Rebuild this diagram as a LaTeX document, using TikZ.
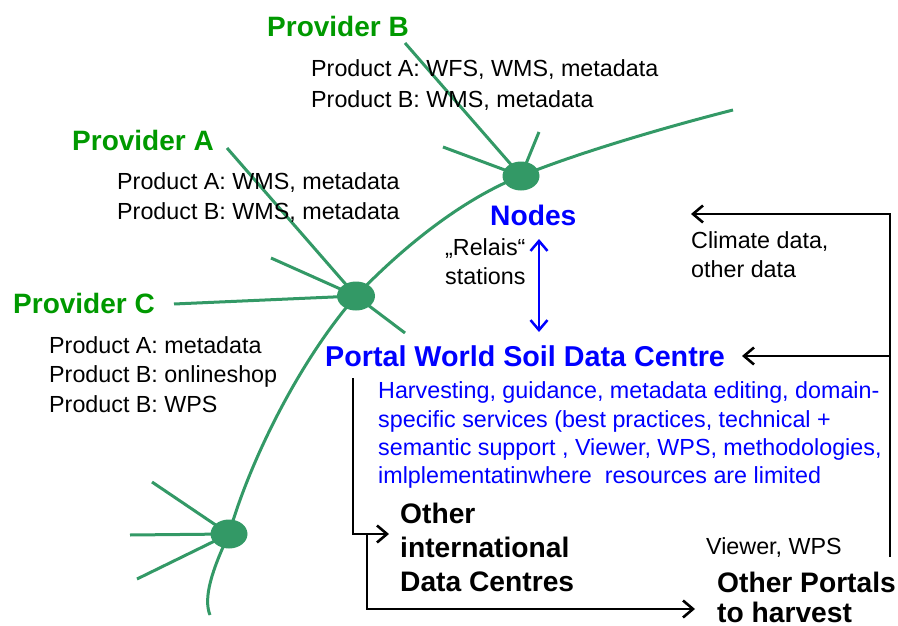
\documentclass[tikz,border=0pt]{standalone}
\usepackage{fontspec}
\setmainfont{Liberation Sans}
\usetikzlibrary{arrows.meta,shapes.geometric}
\definecolor{lgreen}{RGB}{51,153,102}
\definecolor{tgreen}{RGB}{0,153,0}
\definecolor{tblue}{RGB}{0,0,255}
\tikzset{
  txt/.style={anchor=base west, inner sep=0pt, font=\fontsize{23.3}{28}\selectfont},
  hd/.style={anchor=base west, inner sep=0pt, font=\bfseries\fontsize{28.2}{34}\selectfont},
  branch/.style={draw=lgreen, line width=3pt},
  hub/.style={ellipse, fill=lgreen, inner sep=0pt, minimum width=37pt, minimum height=29pt},
  conn/.style={draw=black, line width=2.6pt, line join=miter, -{Straight Barb[length=10pt,width=17pt]}},
  biarrow/.style={draw=tblue, line width=2.5pt, {Straight Barb[length=10pt,width=17pt]}-{Straight Barb[length=10pt,width=17pt]}}
}
\begin{document}
\begin{tikzpicture}[x=1pt,y=-1pt]
\useasboundingbox (0,0) rectangle (898,626);
% hub positions
\coordinate (c1) at (521,176);
\coordinate (c2) at (356,296);
\coordinate (c3) at (229,534);
\coordinate (bot) at (210,615);
\coordinate (top) at (733,110);
% main green curve
\draw[branch] (bot) .. controls (203,598) and (212,570) .. (c3)
  .. controls (250,460) and (300,360) .. (c2)
  .. controls (400,250) and (460,200) .. (c1)
  .. controls (580,152) and (670,126) .. (top);
% spokes
\coordinate (s1a) at (405,43);
\coordinate (s1b) at (443,147);
\coordinate (s1c) at (539,132);
\coordinate (s2a) at (227,148);
\coordinate (s2b) at (271,258);
\coordinate (s2c) at (174,304);
\coordinate (s2d) at (405,333);
\coordinate (s3a) at (152,482);
\coordinate (s3b) at (130,535);
\coordinate (s3c) at (137,579);
\draw[branch] (s1a) -- (c1);
\draw[branch] (s1b) -- (c1);
\draw[branch] (s1c) -- (c1);
\draw[branch] (s2a) -- (c2);
\draw[branch] (s2b) -- (c2);
\draw[branch] (s2c) -- (c2);
\draw[branch] (s2d) -- (c2);
\draw[branch] (s3a) -- (c3);
\draw[branch] (s3b) -- (c3);
\draw[branch] (s3c) -- (c3);
\node[hub] (n1) at (c1) {};
\node[hub, minimum width=38pt] (n2) at (c2) {};
\node[hub] (n3) at (c3) {};
% providers
\node[hd, text=tgreen, font=\bfseries\fontsize{28}{34}\selectfont] (pb) at (267,37) {Provider B};
\node[txt] (pb1) at (311,77) {Product A: WFS, WMS, metadata};
\node[txt] (pb2) at (311,107) {Product B: WMS, metadata};
\node[hd, text=tgreen, font=\bfseries\fontsize{28}{34}\selectfont] (pa) at (72,150) {Provider A};
\node[txt] (pa1) at (117,189) {Product A: WMS, metadata};
\node[txt] (pa2) at (117,219) {Product B: WMS, metadata};
\node[hd, text=tgreen, font=\bfseries\fontsize{28}{34}\selectfont] (pc) at (13,313) {Provider C};
\node[txt] (pc1) at (49,353) {Product A: metadata};
\node[txt] (pc2) at (49,382) {Product B: onlineshop};
\node[txt] (pc3) at (49,412) {Product B: WPS};
% nodes / relais
\node[hd, text=tblue] (nodes) at (490,225) {Nodes};
\node[txt] (rel1) at (445,255) {„Relais“};
\node[txt] (rel2) at (445,284) {stations};
\coordinate (ua) at (539,239);
\coordinate (la) at (539,332);
\draw[biarrow] (ua) -- (la);
% portal
\node[hd, text=tblue, font=\bfseries\fontsize{28.7}{34}\selectfont] (portal) at (325,366) {Portal World Soil Data Centre};
\node[txt, text=tblue] (h1) at (378,398) {Harvesting, guidance, metadata editing, domain-};
\node[txt, text=tblue] (h2) at (378,427) {specific services (best practices, technical +};
\node[txt, text=tblue] (h3) at (378,455) {semantic support , Viewer, WPS, methodologies,};
\node[txt, text=tblue] (h4) at (378,483) {imlplementatinwhere\ \ resources are limited};
% climate
\node[txt] (cl1) at (691,248) {Climate data,};
\node[txt] (cl2) at (691,277) {other data};
% others
\node[hd] (o1) at (400,523) {Other};
\node[hd] (o2) at (400,557) {international};
\node[hd] (o3) at (400,591) {Data Centres};
\node[txt] (vw) at (706,554) {Viewer, WPS};
\node[hd] (op1) at (717,592) {Other Portals};
\node[hd] (op2) at (717,622) {to harvest};
% black connectors
\coordinate (rb) at (890,557);
\coordinate (rt) at (890,214);
\coordinate (rm) at (890,356);
\coordinate (cltip) at (691,214);
\coordinate (ptip) at (742,356);
\draw[conn] (rb) -- (rt) -- (cltip);
\draw[conn] (rm) -- (ptip);
\coordinate (ls) at (353,378);
\coordinate (lc) at (353,534);
\coordinate (ltip) at (389,534);
\draw[conn] (ls) -- (lc) -- (ltip);
\coordinate (ms) at (367,534);
\coordinate (mc) at (367,609);
\coordinate (mtip) at (695,609);
\draw[conn] (ms) -- (mc) -- (mtip);
\end{tikzpicture}
\end{document}
